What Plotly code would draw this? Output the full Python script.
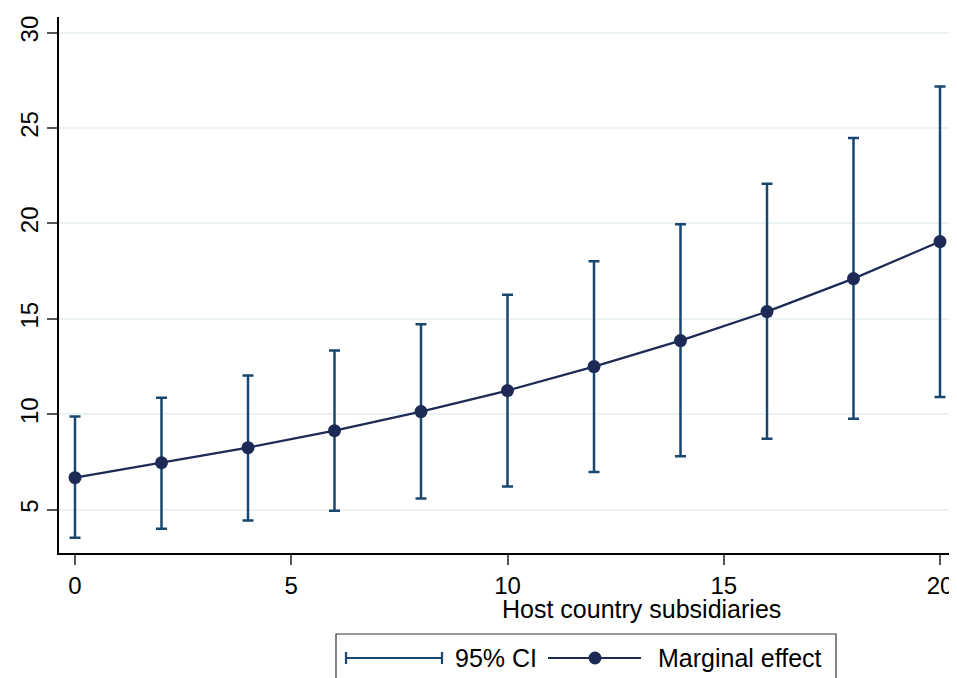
import plotly.graph_objects as go

# Data
subsidiaries = [0, 2, 4, 6, 8, 10, 12, 14, 16, 18, 20]
marginal_effect = [6.68, 7.46, 8.25, 9.14, 10.14, 11.24, 12.50, 13.86, 15.38, 17.11, 19.05]
ci_upper = [9.88, 10.87, 12.03, 13.34, 14.72, 16.27, 18.02, 19.96, 22.08, 24.48, 27.18]
ci_lower = [3.53, 4.00, 4.43, 4.95, 5.58, 6.21, 6.98, 7.80, 8.72, 9.77, 10.90]

x_ticks = [0, 5, 10, 15, 20]
y_ticks = [5, 10, 15, 20, 25, 30]
x_title = "Host country subsidiaries"
legend_labels = ["95% CI", "Marginal effect"]

CI_COLOR = "#1a476f"
ME_COLOR = "#1c2a55"
FONT = "Liberation Sans, Arial, sans-serif"
FS = 25
TICK_FS = 24

# page body has an 8px default margin; compensate so the plot lands where the reference has it
OFF = 8
W, H = 957, 678
PLOT_L, PLOT_R, PLOT_T, PLOT_B = 59, 957, 17, 553  # in page pixels
L = PLOT_L - OFF
R = W - (PLOT_R - OFF)
T = PLOT_T - OFF
B = H - (PLOT_B - OFF)
PW, PH = W - L - R, H - T - B


def px(x):
    return (x - OFF - L) / PW


def py(y):
    return (H - B - (y - OFF)) / PH


fig = go.Figure()

fig.add_trace(go.Scatter(
    x=subsidiaries, y=marginal_effect, mode="markers",
    marker=dict(size=1, opacity=0),
    error_y=dict(type="data", symmetric=False,
                 array=[u - m for u, m in zip(ci_upper, marginal_effect)],
                 arrayminus=[m - l for m, l in zip(marginal_effect, ci_lower)],
                 color=CI_COLOR, thickness=2.5, width=5.5),
    name=legend_labels[0], showlegend=False, hoverinfo="skip",
))

fig.add_trace(go.Scatter(
    x=subsidiaries, y=marginal_effect, mode="lines+markers",
    line=dict(color=ME_COLOR, width=2.2),
    marker=dict(color=ME_COLOR, size=13),
    name=legend_labels[1], showlegend=False,
))

shapes = []
annotations = []

# legend box
shapes.append(dict(type="rect", xref="paper", yref="paper",
                   x0=px(336), x1=px(836), y0=py(634), y1=py(700),
                   line=dict(color="#333333", width=1.2), fillcolor="white"))
ly = py(658)
cap = 6 / PH
# CI legend symbol
shapes.append(dict(type="line", xref="paper", yref="paper",
                   x0=px(346), x1=px(442), y0=ly, y1=ly,
                   line=dict(color=CI_COLOR, width=2.2)))
for xx in (346, 442):
    shapes.append(dict(type="line", xref="paper", yref="paper",
                       x0=px(xx), x1=px(xx), y0=ly - cap, y1=ly + cap,
                       line=dict(color=CI_COLOR, width=2.2)))
# Marginal effect legend symbol
shapes.append(dict(type="line", xref="paper", yref="paper",
                   x0=px(548), x1=px(641), y0=ly, y1=ly,
                   line=dict(color=ME_COLOR, width=2.2)))
shapes.append(dict(type="circle", xref="paper", yref="paper",
                   xsizemode="pixel", ysizemode="pixel",
                   xanchor=px(595), yanchor=ly,
                   x0=-6.5, x1=6.5, y0=-6.5, y1=6.5,
                   fillcolor=ME_COLOR, line=dict(color=ME_COLOR, width=0)))

annotations.append(dict(text=legend_labels[0], xref="paper", yref="paper",
                        x=px(453), y=ly, xanchor="left", yanchor="middle",
                        showarrow=False, font=dict(family=FONT, size=FS, color="black")))
annotations.append(dict(text=legend_labels[1], xref="paper", yref="paper",
                        x=px(656), y=ly, xanchor="left", yanchor="middle",
                        showarrow=False, font=dict(family=FONT, size=FS, color="black")))
annotations.append(dict(text=x_title, xref="paper", yref="paper",
                        x=px(641), y=py(609), xanchor="center", yanchor="middle",
                        showarrow=False, font=dict(family=FONT, size=FS, color="black")))

fig.update_layout(
    width=W, height=H,
    margin=dict(l=L, r=R, t=T, b=B, pad=0, autoexpand=False),
    plot_bgcolor="white", paper_bgcolor="white",
    font=dict(family=FONT, size=FS, color="black"),
    shapes=shapes, annotations=annotations,
    showlegend=False,
    xaxis=dict(
        range=[-0.37, 20.393], tickvals=x_ticks, ticktext=[str(v) for v in x_ticks],
        showgrid=False, zeroline=False, automargin=False,
        showline=True, linecolor="black", linewidth=1.5,
        ticks="outside", ticklen=10, tickwidth=1.5, tickcolor="#555555",
        tickfont=dict(family=FONT, size=TICK_FS, color="black"),
    ),
    yaxis=dict(
        range=[2.73, 30.82], tickvals=y_ticks, ticktext=[str(v) for v in y_ticks],
        showgrid=True, gridcolor="#eaf2f3", gridwidth=1.5, zeroline=False,
        automargin=False,
        showline=True, linecolor="black", linewidth=1.5,
        ticks="outside", ticklen=10, tickwidth=1.5, tickcolor="#555555",
        tickangle=-90,
        tickfont=dict(family=FONT, size=TICK_FS, color="black"),
    ),
)

fig.write_html("out.html")
